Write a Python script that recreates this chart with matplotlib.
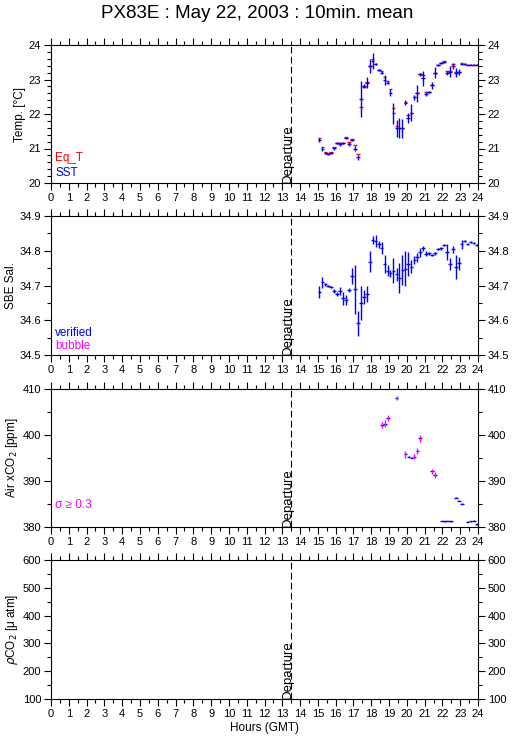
import matplotlib
matplotlib.use('Agg')
import matplotlib.pyplot as plt
import matplotlib.transforms as mtransforms
import numpy as np

plt.rcParams['font.family'] = ['Liberation Sans', 'DejaVu Sans']

# 10 minute means (hours GMT)
hours = [15.08, 15.25, 15.42, 15.58, 15.75, 15.92, 16.08, 16.25, 16.42, 16.58,
         16.75, 16.92, 17.08, 17.25, 17.42, 17.58, 17.75, 17.92, 18.08, 18.25,
         18.42, 18.58, 18.75, 18.92, 19.08, 19.25, 19.42, 19.58, 19.75, 19.92,
         20.08, 20.25, 20.42, 20.58, 20.75, 20.92, 21.08, 21.25, 21.42, 21.58,
         21.75, 21.92, 22.08, 22.25, 22.42, 22.58, 22.75, 22.92, 23.08, 23.25,
         23.42, 23.58, 23.75, 23.92]

sst = [21.25, 20.98, 20.86, 20.84, 20.88, 21.01, 21.15, 21.12, 21.15, 21.31,
       21.12, 21.25, 21.00, 20.74, 22.43, 22.81, 22.91, 23.39, 23.54, 23.45,
       23.28, 23.20, 22.99, 22.91, 22.62, 22.02, 21.58, 21.60, 21.58, 22.33,
       21.89, 22.04, 22.48, 22.60, 23.15, 23.03, 22.58, 22.63, 22.83, 23.20,
       23.42, 23.47, 23.51, 23.20, 23.23, 23.39, 23.20, 23.22, 23.45, 23.45,
       23.43, 23.43, 23.43, 23.43]
sst_sd = [0.05, 0.06, 0.03, 0.03, 0.03, 0.04, 0.03, 0.06, 0.03, 0.03,
          0.06, 0.03, 0.08, 0.08, 0.52, 0.06, 0.17, 0.19, 0.24, 0.04,
          0.03, 0.05, 0.14, 0.05, 0.10, 0.30, 0.26, 0.29, 0.27, 0.08,
          0.14, 0.25, 0.07, 0.25, 0.05, 0.22, 0.05, 0.03, 0.10, 0.15,
          0.03, 0.03, 0.03, 0.06, 0.15, 0.10, 0.13, 0.08, 0.03, 0.02,
          0.01, 0.01, 0.01, 0.01]
eq_t = [21.29, 21.05, 20.90, 20.88, 20.90, 21.03, 21.17, 21.17, 21.17, 21.33,
        21.20, 21.27, 21.11, 20.83, 22.21, 22.79, 22.92, 23.39, 23.60, 23.45,
        23.28, 23.25, 23.07, 22.95, 22.72, 22.16, 21.65, 21.60, 21.58, 22.36,
        21.97, 22.04, 22.48, 22.60, 23.15, 23.14, 22.63, 22.65, 22.83, 23.20,
        23.42, 23.47, 23.53, 23.25, 23.25, 23.44, 23.21, 23.22, 23.47, 23.45,
        23.43, 23.43, 23.43, 23.43]

sal = [34.682, 34.709, 34.703, 34.699, 34.696, 34.685, 34.676, 34.684, 34.663, 34.658,
       34.687, 34.726, 34.689, 34.591, 34.649, 34.666, 34.675, 34.769, 34.831, 34.828,
       34.818, 34.809, 34.761, 34.742, 34.735, 34.743, 34.732, 34.721, 34.745, 34.748,
       34.761, 34.754, 34.773, 34.781, 34.795, 34.807, 34.791, 34.793, 34.788, 34.793,
       34.805, 34.807, 34.817, 34.797, 34.761, 34.804, 34.754, 34.764, 34.818, 34.828,
       34.819, 34.824, 34.822, 34.817]
sal_sd = [0.017, 0.016, 0.005, 0.003, 0.003, 0.006, 0.006, 0.011, 0.018, 0.015,
          0.005, 0.023, 0.070, 0.037, 0.049, 0.020, 0.023, 0.030, 0.012, 0.018,
          0.010, 0.017, 0.026, 0.016, 0.011, 0.035, 0.019, 0.043, 0.043, 0.050,
          0.034, 0.019, 0.012, 0.012, 0.014, 0.007, 0.007, 0.004, 0.004, 0.004,
          0.004, 0.004, 0.002, 0.023, 0.017, 0.010, 0.034, 0.019, 0.012, 0.004,
          0.003, 0.003, 0.003, 0.003]

co2_hours = [18.59, 18.76, 18.93, 19.43, 19.92, 20.10, 20.27, 20.42, 20.59, 20.74,
             21.40, 21.57, 21.97, 22.13, 22.30, 22.47, 22.77, 22.93, 23.10, 23.42,
             23.59, 23.76, 23.93]
co2 = [402.2, 402.5, 403.8, 408.0, 395.8, 395.3, 395.1, 395.3, 396.6, 399.3,
       392.1, 391.3, 381.3, 381.2, 381.3, 381.2, 386.4, 385.7, 385.1, 381.1,
       381.2, 381.4, 380.6]
co2_sd = [0.58, 0.73, 0.65, 0.44, 0.73, 0.15, 0.15, 0.54, 0.65, 0.80,
          0.47, 0.62, 0.10, 0.10, 0.10, 0.10, 0.12, 0.10, 0.10, 0.10,
          0.10, 0.15, 0.10]

departure = 13.5
blue, red, mag = '#0000ff', '#ff0000', '#ff00ff'
half = 0.1  # half width of the 10 min marks
lw = 1.0

fig = plt.figure(figsize=(5.15, 7.39), dpi=100)
W, H = 515, 739
left, right = 51, 478
boxes = [(45, 183), (216, 355), (389, 527), (560, 699)]
ylims = [(20, 24), (34.5, 34.9), (380, 410), (100, 600)]
ymaj = [1, 0.1, 10, 100]
ymin = [0.2, 0.05, 5, 50]
ylabels = ['Temp. [°C]', 'SBE Sal.', 'Air xCO$_2$ [ppm]', r'$\rho$CO$_2$ [μ atm]']
yfmt = ['%d', '%.1f', '%d', '%d']

axes = []
for i, (top, bot) in enumerate(boxes):
    ax = fig.add_axes([left / W, 1 - bot / H, (right - left) / W, (bot - top) / H])
    ax.set_xlim(0, 24)
    ax.set_ylim(*ylims[i])
    ax.set_xticks(range(0, 25))
    ax.set_xticks(np.arange(0, 24.01, 0.5), minor=True)
    ax.set_yticks(np.arange(ylims[i][0], ylims[i][1] + ymaj[i] / 2, ymaj[i]))
    ax.set_yticks(np.arange(ylims[i][0], ylims[i][1] + ymin[i] / 2, ymin[i]), minor=True)
    ax.yaxis.set_major_formatter(matplotlib.ticker.FormatStrFormatter(yfmt[i]))
    ax.tick_params(which='both', direction='out', top=True, right=True,
                   labelright=True, labelsize=8, width=0.8, pad=2)
    ax.tick_params(which='major', length=5)
    ax.tick_params(which='minor', length=3)
    for s in ax.spines.values():
        s.set_linewidth(0.8)
    ax.set_ylabel(ylabels[i], fontsize=8.5, labelpad=2)
    ax.axvline(departure, color='k', lw=0.8, ls=(0, (6, 3)))
    trans = mtransforms.blended_transform_factory(ax.transData, ax.transAxes)
    ax.text(departure - 0.2, 0.0, 'Departure', rotation=90, ha='center', va='bottom',
            fontsize=9.5, transform=trans)
    axes.append(ax)

ax1, ax2, ax3, ax4 = axes

ax1.errorbar(hours, eq_t, xerr=half, fmt='none', ecolor=red, elinewidth=lw)
ax1.errorbar(hours, sst, xerr=half, yerr=sst_sd, fmt='none', ecolor=blue, elinewidth=lw)
ax1.text(0.01, 0.16, 'Eq_T', color=red, fontsize=8.5, transform=ax1.transAxes)
ax1.text(0.01, 0.05, 'SST', color=blue, fontsize=8.5, transform=ax1.transAxes)

ax2.errorbar(hours, sal, xerr=half, yerr=sal_sd, fmt='none', ecolor=blue, elinewidth=lw)
ax2.text(0.01, 0.14, 'verified', color=blue, fontsize=8.5, transform=ax2.transAxes)
ax2.text(0.01, 0.04, 'bubble', color=mag, fontsize=8.5, transform=ax2.transAxes)

co2_hours = np.array(co2_hours)
co2 = np.array(co2)
co2_sd = np.array(co2_sd)
flag = co2_sd >= 0.3
ax3.errorbar(co2_hours, co2, xerr=half, fmt='none', ecolor=blue, elinewidth=lw)
ax3.errorbar(co2_hours[~flag], co2[~flag], yerr=co2_sd[~flag], fmt='none', ecolor=blue, elinewidth=lw)
ax3.errorbar(co2_hours[flag], co2[flag], yerr=co2_sd[flag], fmt='none', ecolor=mag, elinewidth=lw)
ax3.text(0.01, 0.14, 'σ ≥ 0.3', color=mag, fontsize=8.5, transform=ax3.transAxes)

ax4.set_xlabel('Hours (GMT)', fontsize=8.5, labelpad=2)

fig.text(0.5, 1 - 13 / H, 'PX83E : May 22, 2003 : 10min. mean', ha='center', va='center',
         fontsize=13.5)

fig.savefig('out.png', dpi=100)
